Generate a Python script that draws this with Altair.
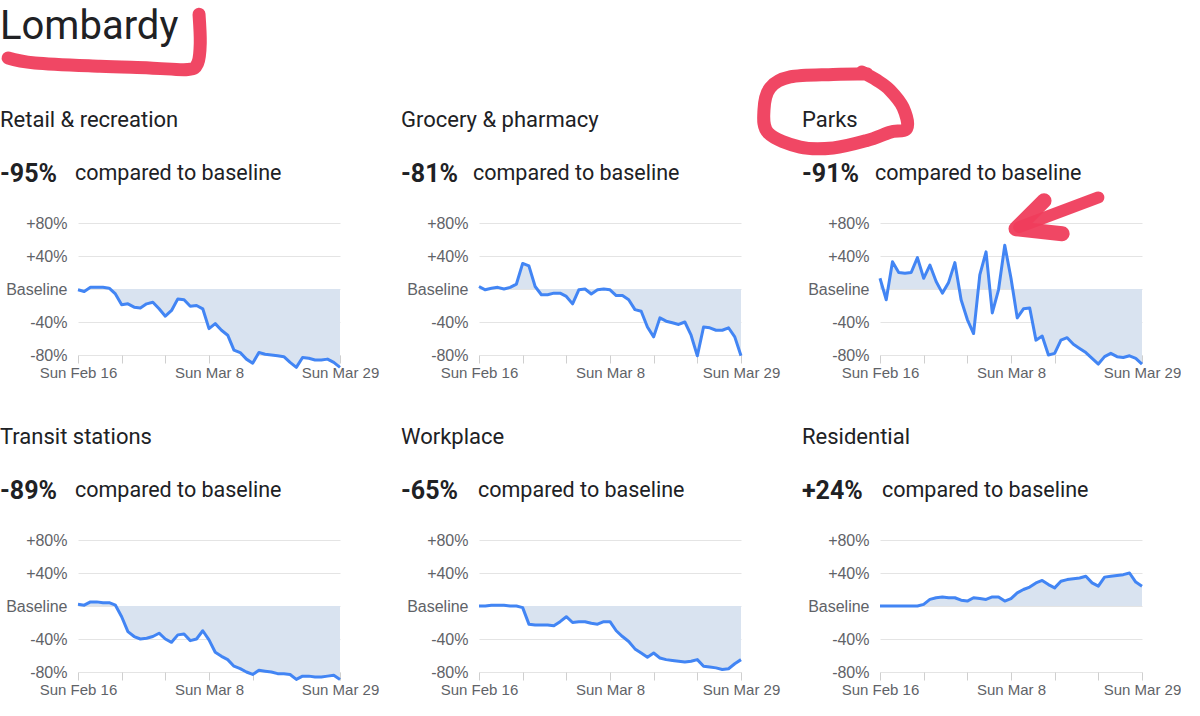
import altair as alt
import pandas as pd

# ---------------- data ----------------
start = "2020-02-16"
dates = [d.strftime("%Y-%m-%d") for d in pd.date_range(start, "2020-03-29", freq="D")]
tick_dates = ["2020-02-16", "2020-02-23", "2020-03-01", "2020-03-08", "2020-03-15", "2020-03-22", "2020-03-29"]
label_dates = ["2020-02-16", "2020-03-08", "2020-03-29"]
y_ticks = [-80, -40, 0, 40, 80]

region = "Lombardy"
categories = ["Retail & recreation", "Grocery & pharmacy", "Parks",
              "Transit stations", "Workplace", "Residential"]
headlines = ["-95%", "-81%", "-91%", "-89%", "-65%", "+24%"]

retail = [-1, -3, 2, 2, 2, 1, -6, -19, -18, -22, -23, -18, -16, -24, -33, -26, -12, -13, -21, -20, -24,
          -48, -42, -50, -56, -74, -77, -85, -90, -77, -79, -80, -81, -82, -89, -95, -83, -84, -86, -86, -85, -89, -95]
grocery = [3, -1, 1, 2, 0, 2, 6, 31, 28, 3, -7, -7, -5, -5, -9, -18, -1, 0, -6, -1, 0,
           -1, -8, -8, -13, -25, -27, -46, -58, -35, -39, -41, -43, -40, -56, -81, -46, -47, -50, -50, -47, -58, -81]
parks = [13, -13, 33, 20, 19, 20, 38, 13, 29, 9, -5, 8, 32, -13, -37, -54, 17, 45, -29, -1, 53,
         13, -35, -24, -23, -62, -57, -80, -78, -62, -59, -67, -72, -77, -84, -91, -82, -78, -82, -83, -81, -84, -91]
transit = [2, 1, 5, 5, 4, 4, 1, -13, -31, -37, -40, -39, -37, -33, -40, -44, -35, -34, -42, -40, -30,
           -41, -56, -61, -65, -73, -76, -80, -83, -78, -79, -80, -82, -82, -83, -89, -85, -85, -86, -86, -85, -84, -89]
workplace = [0, 0, 1, 1, 1, 0, 0, -2, -22, -23, -23, -23, -24, -19, -13, -20, -19, -19, -21, -22, -19,
             -19, -30, -37, -43, -52, -57, -62, -57, -63, -65, -66, -67, -68, -67, -65, -73, -74, -75, -77, -76, -70, -65]
residential = [0, 0, 0, 0, 0, 0, 0, 2, 8, 10, 11, 10, 10, 7, 6, 10, 9, 8, 11, 11, 6,
               9, 16, 20, 23, 28, 31, 26, 22, 30, 32, 33, 34, 36, 28, 24, 35, 36, 37, 38, 40, 29, 24]
series = [retail, grocery, parks, transit, workplace, residential]

# hand-drawn red annotations (days from Feb 16, percent) in the panel's own scales
underline_days = [-11.2, -6.9, 3.5, 11.5, 17.6, 19.2, 19.6, 19.4]
underline_vals = [280, 274, 270, 268, 266, 274, 298, 333]
circle_days = [-2.1, -7.5, -14.4, -17.6, -18.6, -17.9, -12.8, -7.5, -2.1, 1.6, 4.3, 3.7, 1.6, -0.5, -2.9]
circle_vals = [261, 260, 257, 244, 217, 189, 172, 171, 180, 190, 195, 220, 241, 253, 263]
shaft_days = [35.0, 22.3]
shaft_vals = [111, 75]
head_days = [26.3, 21.8, 29.2]
head_vals = [107, 73, 67]

# ---------------- style ----------------
TEXT = "#202124"
GREY = "#5f6368"
BLUE = "#4285f4"
FILL = "#d9e3f0"
RED = "#ef3d5c"
HFONT = "Roboto"
AFONT = "Liberation Sans"
W, H = 262, 132
MS_DAY = 86400000
start_ms = int(pd.Timestamp(start).value // 10**6)
tick_ms = [int(pd.Timestamp(d).value // 10**6) for d in tick_dates]
label_expr = ("indexof(" + str(label_dates) + ", utcFormat(datum.value, '%Y-%m-%d')) >= 0 "
              "? utcFormat(datum.value, '%a %b %-d') : ''")
stat_dx = {"-95%": 75, "-81%": 72, "-91%": 73, "-89%": 75, "-65%": 77, "+24%": 80}


def enc_x():
    return alt.X("date:T", scale=alt.Scale(type="utc", domain=[tick_ms[0], tick_ms[-1]]),
                 axis=alt.Axis(values=tick_ms, labelExpr=label_expr, grid=False, domain=False,
                               ticks=True, tickColor="#cfcfcf", tickSize=8, tickWidth=1,
                               labelColor=GREY, labelFont=AFONT, labelFontSize=15, labelPadding=2,
                               labelFlush=False, labelOverlap=False, title=None))


def enc_y():
    return alt.Y("value:Q", scale=alt.Scale(domain=[-80, 80], nice=False, zero=False),
                 axis=alt.Axis(values=y_ticks,
                               labelExpr="datum.value == 0 ? 'Baseline' : (datum.value > 0 ? '+' : '') + datum.value + '%'",
                               grid=True, gridColor="#e4e4e4", gridWidth=1, domain=False, ticks=False,
                               labelPadding=11, labelColor=GREY, labelFont=AFONT, labelFontSize=16,
                               title=None))


def stroke(days, vals, seg="a", interp="linear", width=13):
    df = pd.DataFrame({"date": [start_ms + d * MS_DAY for d in days], "value": vals,
                       "i": list(range(len(days))), "seg": seg})
    return alt.Chart(df).mark_line(color=RED, strokeWidth=width, strokeCap="round", strokeJoin="round",
                                   interpolate=interp, opacity=0.95).encode(
        x=enc_x(), y=enc_y(), order="i:Q")


def text(value, **kw):
    return alt.Chart(pd.DataFrame({"t": [value]})).mark_text(align="left", baseline="middle", **kw).encode(
        text="t:N")


panels = []
for k, (cat, head, vals) in enumerate(zip(categories, headlines, series)):
    df = pd.DataFrame({"date": dates, "value": vals, "base": 0})
    base = alt.Chart(df)
    area = base.mark_area(color=FILL, opacity=1).encode(x=enc_x(), y=enc_y(), y2="base:Q")
    line = base.mark_line(color=BLUE, strokeWidth=3, strokeJoin="round").encode(x=enc_x(), y=enc_y())
    layers = [area, line,
              text(cat, x=-78, y=-103, font=HFONT, fontSize=22, color=TEXT),
              text(head, x=-78, y=-49, font=HFONT, fontSize=25, fontWeight="bold", color=TEXT),
              text("compared to baseline", x=-78 + stat_dx[head], y=-49, font=HFONT, fontSize=21.5, color=TEXT)]
    if k == 0:
        layers.append(text(region, x=-78, y=-196, font=HFONT, fontSize=40, color=TEXT))
        layers.append(stroke(underline_days, underline_vals, interp="cardinal"))
    if k == 2:
        layers.append(stroke(circle_days, circle_vals, interp="cardinal"))
        layers.append(stroke(shaft_days, shaft_vals, width=12))
        layers.append(stroke(head_days, head_vals, width=15))
    panels.append(alt.layer(*layers).properties(width=W, height=H))

chart = alt.concat(*panels, columns=3, spacing=alt.RowColnumber(row=185, column=139), bounds="flush").properties(
    padding={"left": 0, "top": 7, "right": 0, "bottom": 0}
).configure_view(stroke=None)

chart.save("out.html", embed_options={"renderer": "svg", "actions": False})
